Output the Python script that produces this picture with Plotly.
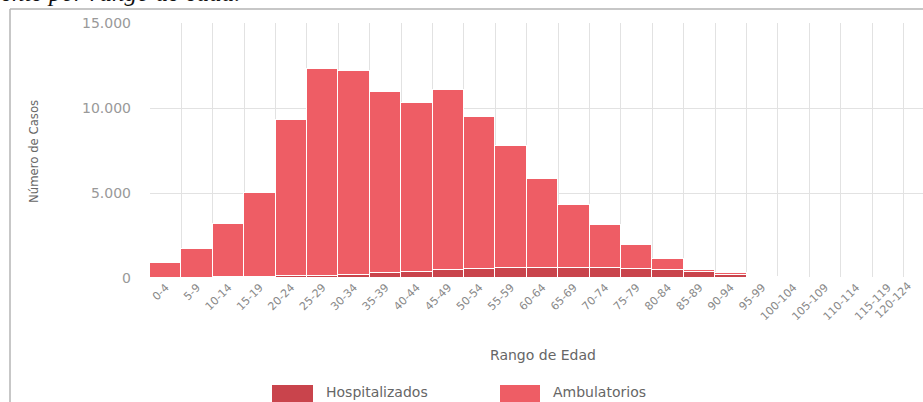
import plotly.graph_objects as go

categories = ["0-4", "5-9", "10-14", "15-19", "20-24", "25-29", "30-34", "35-39",
              "40-44", "45-49", "50-54", "55-59", "60-64", "65-69", "70-74", "75-79",
              "80-84", "85-89", "90-94", "95-99", "100-104", "105-109", "110-114",
              "115-119", "120-124"]
hospitalizados = [20, 15, 30, 50, 90, 120, 200, 280, 330, 470, 530, 570, 590, 600,
                  590, 540, 470, 350, 200, 50, 10, 0, 0, 0, 0]
ambulatorios = [880, 1705, 3150, 4930, 9200, 12160, 12000, 10680, 9950, 10590, 8960,
                7190, 5210, 3700, 2500, 1420, 650, 130, 70, 30, 10, 0, 0, 0, 0]
y_ticks = [0, 5000, 10000, 15000]
series_names = ["Hospitalizados", "Ambulatorios"]
c_hosp = "#c9444c"
c_amb = "#ee5d65"

W, H = 923, 402
L, R, T, B = 150, 0, 23, 124
pw, ph = W - L - R, H - T - B


def px(x):
    return (x - L) / pw


def py(y):
    return (H - B - y) / ph


fig = go.Figure()
fig.add_trace(go.Bar(x=categories, y=hospitalizados, name=series_names[0],
                     marker=dict(color=c_hosp, line=dict(color="white", width=1)),
                     showlegend=False))
fig.add_trace(go.Bar(x=categories, y=ambulatorios, name=series_names[1],
                     marker=dict(color=c_amb, line=dict(color="white", width=1)),
                     showlegend=False))

fig.update_layout(
    width=W, height=H,
    margin=dict(l=L, r=R, t=T, b=B, autoexpand=False),
    barmode="stack", bargap=0,
    plot_bgcolor="white", paper_bgcolor="white",
    separators=",.",
    font=dict(family="DejaVu Sans", color="#777"),
)
# last label is drawn separately (shifted inside the frame like the original)
ticktext = categories[:-1] + [" "]
fig.update_xaxes(type="category", range=[-0.5, 24.12], tickson="boundaries",
                 tickvals=categories, ticktext=ticktext, automargin=False,
                 showgrid=True, gridcolor="#e2e2e2", gridwidth=1,
                 tickangle=-45, tickfont=dict(size=11, color="#888"),
                 ticks="", showline=False, zeroline=False)
fig.update_yaxes(range=[0, 15000], tickvals=y_ticks, tickformat=",d", automargin=False,
                 showgrid=True, gridcolor="#e2e2e2", zeroline=False,
                 tickfont=dict(size=14, color="#999"), ticklabelstandoff=18)

fig.add_annotation(text=categories[-1], xref="paper", yref="paper",
                   x=px(893), y=py(300), textangle=-45, showarrow=False,
                   xanchor="center", yanchor="middle",
                   font=dict(size=11, color="#888", family="DejaVu Sans"))

# axis titles
fig.add_annotation(text="Rango de Edad", xref="paper", yref="paper",
                   x=px(543), y=py(355), showarrow=False,
                   xanchor="center", yanchor="middle",
                   font=dict(size=14, color="#666", family="DejaVu Sans"))
fig.add_annotation(text="Número de Casos", xref="paper", yref="paper",
                   x=px(33), y=py(152), showarrow=False, textangle=-90,
                   xanchor="center", yanchor="middle",
                   font=dict(size=13, color="#666", family="DejaVu Sans Condensed"))

# manual legend
legend_items = [(272, 313, 324, c_hosp, series_names[0]),
                (500, 540, 551, c_amb, series_names[1])]
for x0, x1, tx, col, name in legend_items:
    fig.add_shape(type="rect", xref="paper", yref="paper",
                  x0=px(x0), x1=px(x1), y0=py(410), y1=py(385),
                  fillcolor=col, line=dict(width=0), layer="above")
    fig.add_annotation(text=name, xref="paper", yref="paper", x=px(tx), y=py(392),
                       xanchor="left", yanchor="middle", showarrow=False,
                       font=dict(size=14, color="#666", family="DejaVu Sans"))

# document frame and cut caption
fig.add_shape(type="line", xref="paper", yref="paper", x0=px(10), x1=px(930),
              y0=py(9), y1=py(9), line=dict(color="#b5b5b5", width=1.5), layer="above")
fig.add_shape(type="line", xref="paper", yref="paper", x0=px(10), x1=px(10),
              y0=py(9), y1=py(410), line=dict(color="#b5b5b5", width=1.5), layer="above")
fig.add_annotation(text="ente por rango de edad.", xref="paper", yref="paper",
                   x=px(-1), y=py(-7), xanchor="left", yanchor="middle", showarrow=False,
                   font=dict(size=25, color="#111", family="Liberation Serif", style="italic"))

fig.write_html("out.html", config={"displayModeBar": False},
               post_script="document.body.style.margin='0';document.body.style.overflow='hidden';")
